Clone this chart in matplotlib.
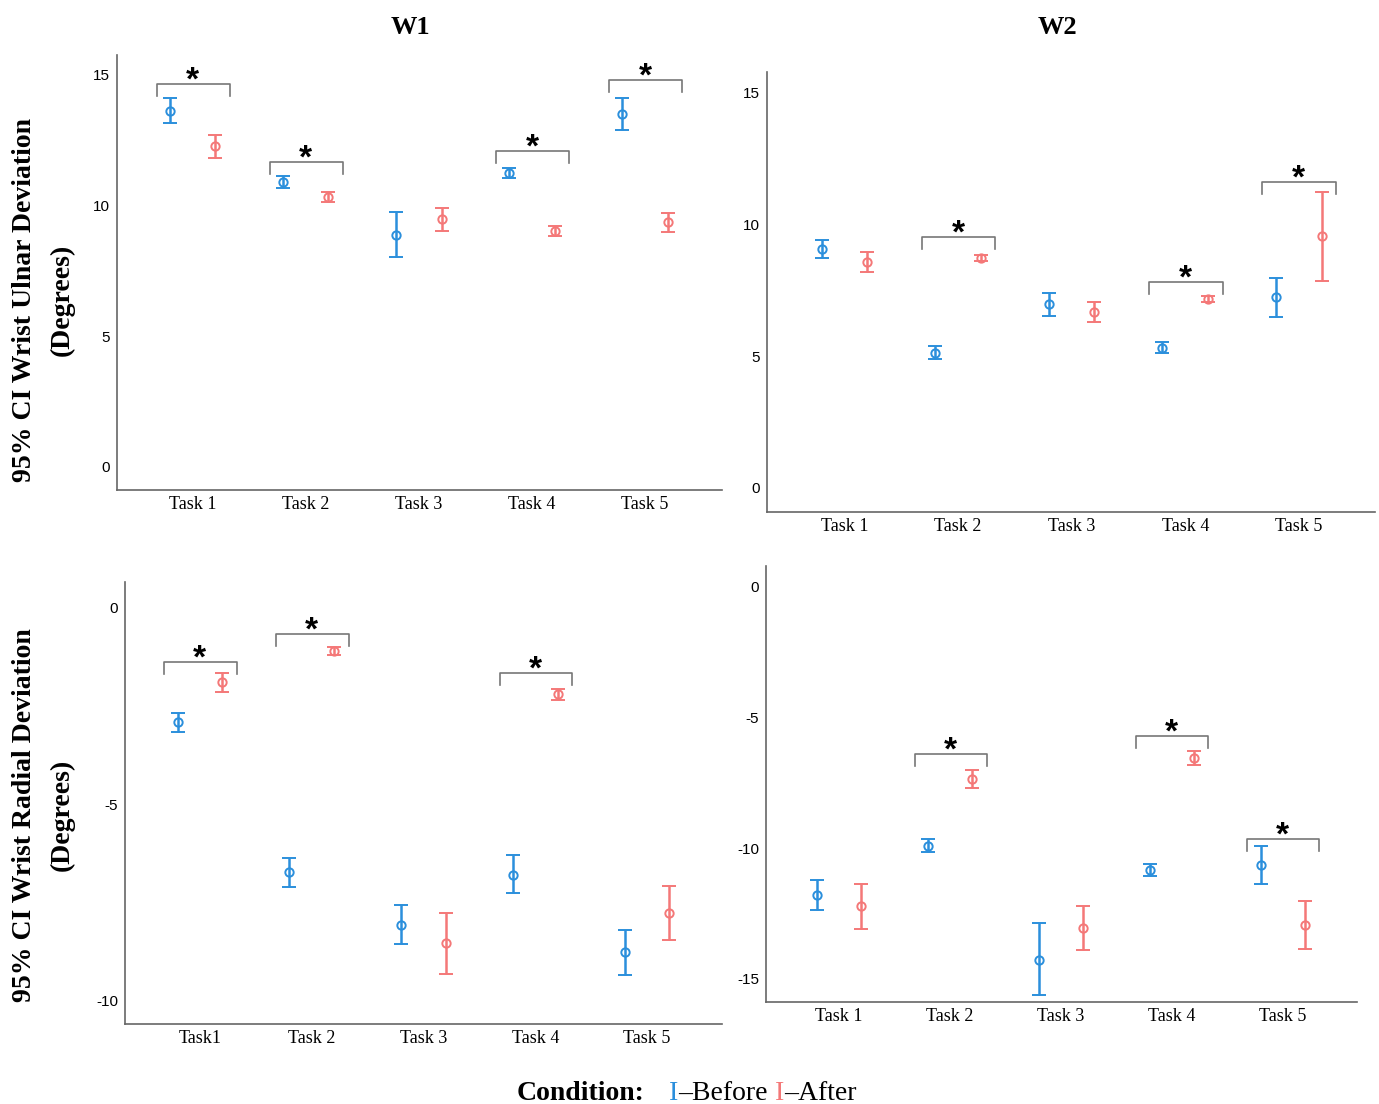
import matplotlib.pyplot as plt
import numpy as np

# data
tasks = ['Task 1', 'Task 2', 'Task 3', 'Task 4', 'Task 5']
tasks_w1_radial = ['Task1', 'Task 2', 'Task 3', 'Task 4', 'Task 5']

# W1 ulnar
w1u_before = [13.59, 10.88, 8.85, 11.22, 13.47]
w1u_before_lo = [13.13, 10.65, 8.02, 11.03, 12.86]
w1u_before_hi = [14.08, 11.10, 9.73, 11.41, 14.08]
w1u_after = [12.25, 10.30, 9.47, 9.00, 9.35]
w1u_after_lo = [11.79, 10.11, 9.00, 8.82, 8.97]
w1u_after_hi = [12.67, 10.50, 9.89, 9.20, 9.69]
w1u_sig = [0, 1, 3, 4]
w1u_sig_y = [14.62, 11.64, 12.06, 14.77]

# W2 ulnar
w2u_before = [9.05, 5.11, 6.97, 5.30, 7.23]
w2u_before_lo = [8.71, 4.89, 6.52, 5.11, 6.48]
w2u_before_hi = [9.39, 5.38, 7.39, 5.53, 7.95]
w2u_after = [8.56, 8.71, 6.67, 7.16, 9.55]
w2u_after_lo = [8.18, 8.60, 6.29, 7.05, 7.84]
w2u_after_hi = [8.94, 8.83, 7.05, 7.27, 11.21]
w2u_sig = [1, 3, 4]
w2u_sig_y = [9.51, 7.80, 11.59]

# W1 radial
w1r_before = [-2.90, -6.72, -8.07, -6.79, -8.75]
w1r_before_lo = [-3.16, -7.10, -8.55, -7.25, -9.34]
w1r_before_hi = [-2.67, -6.36, -7.56, -6.28, -8.19]
w1r_after = [-1.88, -1.09, -8.52, -2.19, -7.76]
w1r_after_lo = [-2.14, -1.20, -9.31, -2.34, -8.45]
w1r_after_hi = [-1.65, -0.99, -7.76, -2.06, -7.07]
w1r_sig = [0, 1, 3]
w1r_sig_y = [-1.37, -0.66, -1.65]

# W2 radial
w2r_before = [-11.78, -9.91, -14.27, -10.83, -10.64]
w2r_before_lo = [-12.36, -10.14, -15.61, -11.06, -11.36]
w2r_before_hi = [-11.21, -9.64, -12.85, -10.60, -9.91]
w2r_after = [-12.20, -7.35, -13.05, -6.54, -12.93]
w2r_after_lo = [-13.08, -7.69, -13.89, -6.81, -13.85]
w2r_after_hi = [-11.36, -7.00, -12.20, -6.27, -12.01]
w2r_sig = [1, 3, 4]
w2r_sig_y = [-6.39, -5.70, -9.64]

BLUE = '#2b8fdc'
RED = '#f47878'
SERIF = ['Liberation Serif', 'DejaVu Serif']
SANS = ['Liberation Sans', 'DejaVu Sans']

W, H = 1379, 1104
fig = plt.figure(figsize=(W / 100, H / 100), dpi=100)


def px_axes(x0, x1, y0, y1):
    return fig.add_axes([x0 / W, 1 - y1 / H, (x1 - x0) / W, (y1 - y0) / H])


def panel(ax, labels, before, b_lo, b_hi, after, a_lo, a_hi, sig, sig_y,
          ylim, yticks, xlim):
    x = np.arange(len(labels))
    off = 0.2
    for xs, m, lo, hi, c in [(x - off, before, b_lo, b_hi, BLUE),
                             (x + off, after, a_lo, a_hi, RED)]:
        m = np.array(m)
        err = [m - np.array(lo), np.array(hi) - m]
        ax.errorbar(xs, m, yerr=err, fmt='o', color=c, ecolor=c,
                    mfc='none', mec=c, ms=6, mew=1.4, elinewidth=1.8,
                    capsize=5, capthick=1.8)
    drop = 0.027 * (ylim[1] - ylim[0])
    for i, yb in zip(sig, sig_y):
        ax.plot([i - 0.32, i - 0.32, i + 0.33, i + 0.33],
                [yb - drop, yb, yb, yb - drop], color='#777777', lw=1.2)
        ax.text(i, yb + 0.25 * drop, '*', ha='center', va='center',
                fontsize=24, fontweight='bold', family=SANS)
    ax.set_xlim(*xlim)
    ax.set_ylim(*ylim)
    ax.set_xticks(x)
    ax.set_xticklabels(labels, family=SERIF, fontsize=13)
    ax.set_yticks(yticks)
    ax.set_yticklabels([str(t) for t in yticks], family=SANS, fontsize=11)
    ax.tick_params(length=0, pad=4)
    ax.tick_params(axis='y', pad=5)
    for s in ['top', 'right']:
        ax.spines[s].set_visible(False)
    for s in ['left', 'bottom']:
        ax.spines[s].set_color('#666666')
        ax.spines[s].set_linewidth(1.2)


ax1 = px_axes(117, 722, 55, 490)
panel(ax1, tasks, w1u_before, w1u_before_lo, w1u_before_hi,
      w1u_after, w1u_after_lo, w1u_after_hi, w1u_sig, w1u_sig_y,
      (-0.88, 15.73), [0, 5, 10, 15], (-0.67, 4.68))

ax2 = px_axes(767, 1375, 72, 512)
panel(ax2, tasks, w2u_before, w2u_before_lo, w2u_before_hi,
      w2u_after, w2u_after_lo, w2u_after_hi, w2u_sig, w2u_sig_y,
      (-0.91, 15.76), [0, 5, 10, 15], (-0.68, 4.67))

ax3 = px_axes(125, 722, 582, 1024)
panel(ax3, tasks_w1_radial, w1r_before, w1r_before_lo, w1r_before_hi,
      w1r_after, w1r_after_lo, w1r_after_hi, w1r_sig, w1r_sig_y,
      (-10.59, 0.66), [-10, -5, 0], (-0.67, 4.67))

ax4 = px_axes(766, 1357, 566, 1002)
panel(ax4, tasks, w2r_before, w2r_before_lo, w2r_before_hi,
      w2r_after, w2r_after_lo, w2r_after_hi, w2r_sig, w2r_sig_y,
      (-15.88, 0.8), [-15, -10, -5, 0], (-0.66, 4.67))

# column titles
fig.text(410 / W, 1 - 28 / H, 'W1', ha='center', va='center',
         fontsize=19, fontweight='bold', family=SERIF)
fig.text(1057 / W, 1 - 28 / H, 'W2', ha='center', va='center',
         fontsize=19, fontweight='bold', family=SERIF)

# row labels
for yc, txt in [(300, 'Wrist Ulnar Deviation'), (815, 'Wrist Radial Deviation')]:
    fig.text(25 / W, 1 - yc / H, '95% CI ' + txt, rotation=90,
             ha='center', va='center', fontsize=20, fontweight='bold',
             family=SERIF)
    fig.text(62 / W, 1 - yc / H, '(Degrees)', rotation=90,
             ha='center', va='center', fontsize=20, fontweight='bold',
             family=SERIF)

# legend row
ly = 1 - 1093 / H
fig.text(517 / W, ly, 'Condition:', ha='left', va='center', fontsize=20,
         fontweight='bold', family=SERIF)
fig.text(669 / W, ly, 'I', ha='left', va='center', fontsize=20,
         color=BLUE, family=SERIF)
fig.text(678 / W, ly, '\u2013Before', ha='left', va='center', fontsize=20,
         family=SERIF)
fig.text(775 / W, ly, 'I', ha='left', va='center', fontsize=20,
         color=RED, family=SERIF)
fig.text(784 / W, ly, '\u2013After', ha='left', va='center', fontsize=20,
         family=SERIF)

fig.savefig('out.png', dpi=100, facecolor='white')
